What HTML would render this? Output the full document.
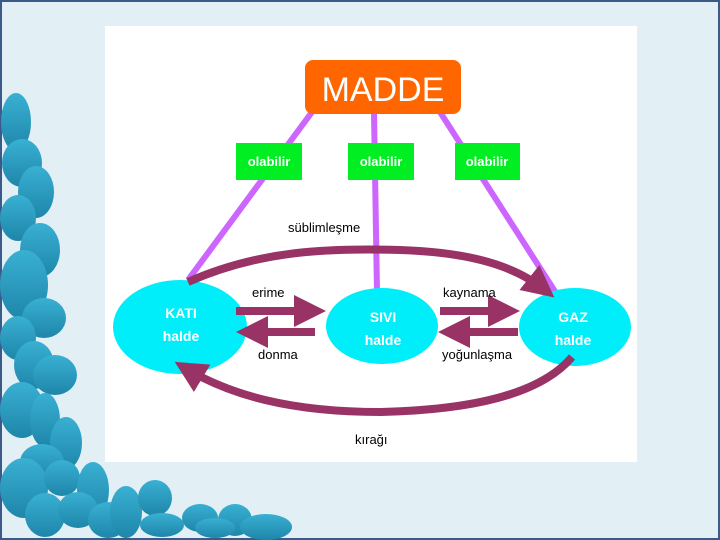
<!DOCTYPE html>
<html><head><meta charset="utf-8"><style>
html,body{margin:0;padding:0;width:720px;height:540px;overflow:hidden;background:#e2f0f6}
svg{display:block}
text{font-family:"Liberation Sans",sans-serif}
</style></head><body>
<svg width="720" height="540" viewBox="0 0 720 540">
<defs>
<linearGradient id="b" x1="0" y1="0" x2="0" y2="1"><stop offset="0" stop-color="#39b0d3"/><stop offset="1" stop-color="#1e86a9"/></linearGradient>
<marker id="ah" markerWidth="4" markerHeight="4" refX="2.5" refY="2" orient="auto" markerUnits="strokeWidth"><path d="M0,0 L4,2 L0,4 Z" fill="#993366"/></marker>
</defs>
<rect width="720" height="540" fill="#e2f0f6"/>
<rect x="0" y="0" width="2" height="540" fill="#3a5a8a"/>
<rect x="0" y="0" width="720" height="2" fill="#3a5a8a"/>
<rect x="0" y="538" width="720" height="2" fill="#3a5a8a"/>
<rect x="718" y="0" width="2" height="540" fill="#3a5a8a"/>
<rect x="105" y="26" width="532" height="436" fill="#fff"/>
<g fill="url(#b)">
<ellipse cx="16" cy="122" rx="15" ry="29"/><ellipse cx="22" cy="163" rx="20" ry="24"/><ellipse cx="36" cy="192" rx="18" ry="26"/>
<ellipse cx="18" cy="218" rx="18" ry="23"/><ellipse cx="40" cy="250" rx="20" ry="27"/><ellipse cx="24" cy="285" rx="24" ry="35"/>
<ellipse cx="44" cy="318" rx="22" ry="20"/><ellipse cx="18" cy="338" rx="18" ry="22"/><ellipse cx="34" cy="365" rx="20" ry="24"/>
<ellipse cx="55" cy="375" rx="22" ry="20"/><ellipse cx="22" cy="410" rx="22" ry="28"/><ellipse cx="45" cy="420" rx="15" ry="27"/>
<ellipse cx="66" cy="443" rx="16" ry="26"/><ellipse cx="42" cy="462" rx="22" ry="18"/><ellipse cx="24" cy="488" rx="24" ry="30"/>
<ellipse cx="62" cy="478" rx="18" ry="18"/><ellipse cx="93" cy="490" rx="16" ry="28"/><ellipse cx="45" cy="515" rx="20" ry="22"/>
<ellipse cx="78" cy="510" rx="20" ry="18"/><ellipse cx="108" cy="520" rx="20" ry="18"/><ellipse cx="126" cy="512" rx="16" ry="26"/>
<ellipse cx="155" cy="498" rx="17" ry="18"/><ellipse cx="162" cy="525" rx="22" ry="12"/><ellipse cx="200" cy="518" rx="18" ry="14"/>
<ellipse cx="235" cy="520" rx="17" ry="16"/><ellipse cx="266" cy="527" rx="26" ry="13"/><ellipse cx="215" cy="528" rx="20" ry="10"/>
</g>
<g stroke="#cc66ff" stroke-width="6" fill="none">
<line x1="312" y1="112" x2="188" y2="280"/><line x1="374" y1="112" x2="377" y2="292"/><line x1="440" y1="112" x2="556" y2="293"/>
</g>
<rect x="305" y="60" width="156" height="54" rx="8" fill="#ff6600"/>
<text x="383" y="101" font-size="34" fill="#fff" text-anchor="middle">MADDE</text>
<g fill="#00ee22"><rect x="236" y="143" width="66" height="37"/><rect x="348" y="143" width="66" height="37"/><rect x="455" y="143" width="65" height="37"/></g>
<g font-size="13" font-weight="bold" fill="#fff" text-anchor="middle"><text x="269" y="166">olabilir</text><text x="381" y="166">olabilir</text><text x="487" y="166">olabilir</text></g>
<g fill="#00eefa"><ellipse cx="180" cy="327" rx="67" ry="47"/><ellipse cx="382" cy="326" rx="56" ry="38"/><ellipse cx="575" cy="327" rx="56" ry="39"/></g>
<g font-size="14" font-weight="bold" fill="#fff" text-anchor="middle">
<text x="181" y="318">KATI</text><text x="181" y="341">halde</text>
<text x="383" y="322">SIVI</text><text x="383" y="345">halde</text>
<text x="573" y="322">GAZ</text><text x="573" y="345">halde</text></g>
<g stroke="#993366" stroke-width="8" fill="none" marker-end="url(#ah)">
<path d="M188,282 C260,250 330,248 400,250 C460,252 510,262 545,290"/>
<path d="M572,357 C540,395 470,410 380,412 C290,412 230,395 185,368"/>
<line x1="236" y1="311" x2="314" y2="311"/><line x1="315" y1="332" x2="248" y2="332"/>
<line x1="440" y1="311" x2="508" y2="311"/><line x1="518" y1="332" x2="450" y2="332"/>
</g>
<g font-size="13" fill="#000">
<text x="288" y="232">süblimleşme</text><text x="252" y="297">erime</text><text x="258" y="359">donma</text>
<text x="443" y="297">kaynama</text><text x="442" y="359">yoğunlaşma</text><text x="355" y="444">kırağı</text></g>
</svg>
</body></html>
